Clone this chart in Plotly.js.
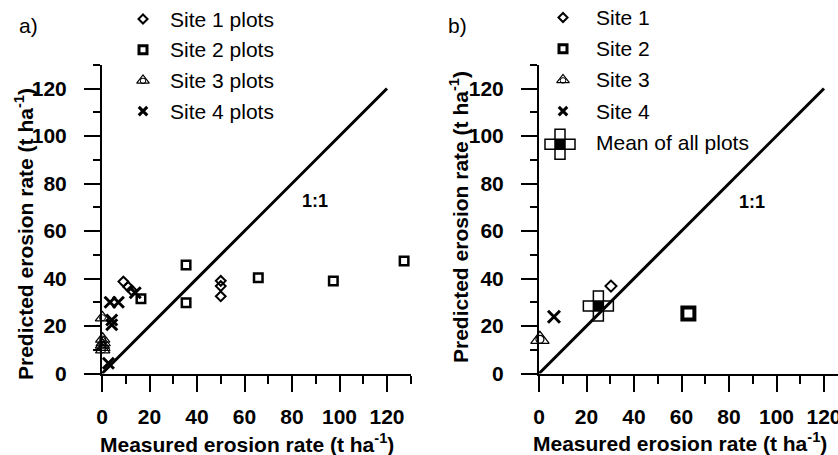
<!DOCTYPE html>
<html>
<head>
<meta charset="utf-8">
<script src="https://cdn.plot.ly/plotly-3.0.1.min.js"></script>
<style>
html, body { margin: 0; padding: 0; overflow: hidden; background: #fff; }
#chart { width: 850px; height: 455px; }
</style>
</head>
<body>
<div id="chart"></div>
<script>
// ---------- data ----------
// Panel a: individual plots
var site1Meas = [9, 11, 12.5, 50, 50, 50];
var site1Pred = [38.7, 36.5, 35, 39, 36.8, 32.5];
var site2Meas = [16.4, 35.4, 35.4, 65.8, 97.4, 127.2];
var site2Pred = [31.5, 45.7, 29.8, 40.3, 38.9, 47.4];
var site3Meas = [0.2, 0.3, 0.5, 0.2, 0.4, 0.3];
var site3Pred = [23.5, 14.5, 13, 12, 11, 10];
var site4Meas = [3.4, 6.9, 4.1, 4.1, 2.7, 14];
var site4Pred = [30, 30, 22.5, 20.5, 4.3, 34];

// Panel b: site means
var siteMeanMeas = [30.3, 62.9, 0.4, 6.3];
var siteMeanPred = [36.8, 25.3, 14.4, 23.9];
var allMeanMeas = [25];
var allMeanPred = [28.4];

// 1:1 reference line
var oneToOne = [0, 120];

// text
var legendA = ['Site 1 plots', 'Site 2 plots', 'Site 3 plots', 'Site 4 plots'];
var legendB = ['Site 1', 'Site 2', 'Site 3', 'Site 4', 'Mean of all plots'];
var xTitle = 'Measured erosion rate (t ha<sup>-1</sup>)';
var yTitle = 'Predicted erosion rate (t ha<sup>-1</sup>)';
var tickVals = [0, 20, 40, 60, 80, 100, 120];

// ---------- layout geometry (pixels) ----------
var W = 850, H = 455;
var FONT = 'Liberation Sans, Arial, sans-serif';
var plotTop = 64.75, plotBottom = 373.5;
var aLeft = 102, bLeft = 539, plotW = 308.75;

function dx(p) { return p / W; }
function dy(p) { return (H - p) / H; }

var BLACK = '#000';

function mk(x, y, xa, ya, symbol, size, lw, color) {
  return {
    x: x, y: y, xaxis: xa, yaxis: ya, type: 'scatter', mode: 'markers',
    cliponaxis: false, showlegend: false, hoverinfo: 'skip',
    marker: { symbol: symbol, size: size, color: color || BLACK,
              line: { width: lw, color: BLACK } }
  };
}

var traces = [];
// 1:1 lines
traces.push({ x: oneToOne, y: oneToOne, xaxis: 'x', yaxis: 'y', mode: 'lines',
  line: { color: BLACK, width: 3 }, showlegend: false, hoverinfo: 'skip', cliponaxis: false });
traces.push({ x: oneToOne, y: oneToOne, xaxis: 'x2', yaxis: 'y2', mode: 'lines',
  line: { color: BLACK, width: 3 }, showlegend: false, hoverinfo: 'skip', cliponaxis: false });

// Panel a points
traces.push(mk(site1Meas, site1Pred, 'x', 'y', 'diamond-open', 7.5, 2));
traces.push(mk(site2Meas, site2Pred, 'x', 'y', 'square-open', 8.5, 2.5));
traces.push(mk(site3Meas, site3Pred, 'x', 'y', 'triangle-up-open', 12.5, 1.2));
traces.push(mk(site3Meas, site3Pred, 'x', 'y', 'circle-open', 6, 1));
traces.push(mk(site4Meas, site4Pred, 'x', 'y', 'x-thin-open', 11, 3));

// Panel b points
var bSym = ['diamond-open', 'square-open', 'triangle-up-open', 'x-thin-open'];
var bSize = [8.5, 12, 16, 12];
var bLw = [2, 4, 1.2, 3];
for (var i = 0; i < siteMeanMeas.length; i++) {
  traces.push(mk([siteMeanMeas[i]], [siteMeanPred[i]], 'x2', 'y2', bSym[i], bSize[i], bLw[i]));
  if (i === 2) traces.push(mk([siteMeanMeas[i]], [siteMeanPred[i]], 'x2', 'y2', 'circle-open', 8, 1.2));
}
traces.push(mk(allMeanMeas, allMeanPred, 'x2', 'y2', 'cross-open', 25, 1.5));
traces.push(mk(allMeanMeas, allMeanPred, 'x2', 'y2', 'square', 10, 1.5));

// ---------- legend keys (overlay pixel axes) ----------
var legA = { x: 143, top: 19, gap: 30.7, textX: 168 };
var legB = { x: 563, top: 17.5, gap: 31.2, textX: 594 };
var keySym = ['diamond-open', 'square-open', 'triangle-up-open', 'x-thin-open'];
var keySize = [7, 8, 11, 8.5];
var keyLw = [2, 3, 1.2, 3];
var LEG_FONT = { family: FONT, size: 21, color: BLACK };
var annotations = [];
for (var i = 0; i < legendA.length; i++) {
  var yy = legA.top + i * legA.gap;
  traces.push(mk([legA.x], [yy], 'x3', 'y3', keySym[i], keySize[i], keyLw[i]));
  if (i === 2) traces.push(mk([legA.x], [yy + 0.5], 'x3', 'y3', 'circle-open', 5.5, 1));
  annotations.push({ xref: 'x3', yref: 'y3', x: legA.textX, y: yy, text: legendA[i],
    showarrow: false, xanchor: 'left', yanchor: 'middle', font: LEG_FONT });
}
for (var i = 0; i < legendB.length; i++) {
  var yy = legB.top + i * legB.gap;
  if (i < 4) {
    traces.push(mk([legB.x], [yy], 'x3', 'y3', keySym[i], keySize[i], keyLw[i]));
    if (i === 2) traces.push(mk([legB.x], [yy + 0.5], 'x3', 'y3', 'circle-open', 5.5, 1));
  } else {
    traces.push(mk([legB.x - 3], [yy + 2], 'x3', 'y3', 'cross-open', 25, 1.5));
    traces.push(mk([legB.x - 3], [yy + 2], 'x3', 'y3', 'square', 10, 1.5));
  }
  annotations.push({ xref: 'x3', yref: 'y3', x: legB.textX, y: yy, text: legendB[i],
    showarrow: false, xanchor: 'left', yanchor: 'middle', font: LEG_FONT });
}

// panel labels
annotations.push({ xref: 'x3', yref: 'y3', x: 17, y: 25, text: 'a)', showarrow: false,
  xanchor: 'left', yanchor: 'middle', font: LEG_FONT });
annotations.push({ xref: 'x3', yref: 'y3', x: 446, y: 25, text: 'b)', showarrow: false,
  xanchor: 'left', yanchor: 'middle', font: LEG_FONT });

// 1:1 labels
var boldFont = { family: FONT, size: 18, color: BLACK, weight: 'bold' };
annotations.push({ xref: 'x', yref: 'y', x: 89.7, y: 72.6, text: '1:1', showarrow: false, font: boldFont });
annotations.push({ xref: 'x2', yref: 'y2', x: 89.5, y: 72.2, text: '1:1', showarrow: false, font: boldFont });

// axis titles
var titleFont = { family: FONT, size: 21, color: BLACK, weight: 'bold' };
annotations.push({ xref: 'x3', yref: 'y3', x: 246.5, y: 443, text: xTitle, showarrow: false, font: titleFont });
annotations.push({ xref: 'x3', yref: 'y3', x: 680, y: 442, text: xTitle, showarrow: false, font: titleFont });
annotations.push({ xref: 'x3', yref: 'y3', x: 24, y: 234, text: yTitle, textangle: -90, showarrow: false, font: titleFont });
annotations.push({ xref: 'x3', yref: 'y3', x: 459, y: 217, text: yTitle, textangle: -90, showarrow: false, font: titleFont });

function axis(domain, anchor, isX) {
  return {
    domain: domain, anchor: anchor, range: [0, 130], fixedrange: true,
    showline: true, linecolor: BLACK, linewidth: 2, mirror: false,
    showgrid: false, zeroline: false,
    tickmode: 'array', tickvals: tickVals, ticktext: tickVals.map(String),
    ticks: 'outside', ticklen: 16, tickwidth: 2, tickcolor: BLACK,
    ticklabelstandoff: isX ? 7 : 13,
    minor: { dtick: 10, tick0: 0, ticks: 'outside', ticklen: isX ? 8 : 7, tickwidth: 2, tickcolor: BLACK, showgrid: false },
    tickfont: { family: FONT, size: 21, color: BLACK, weight: 'bold' }
  };
}

var yDom = [dy(plotBottom), dy(plotTop)];
var layout = {
  width: W, height: H,
  margin: { l: 0, r: 0, t: 0, b: 0 },
  paper_bgcolor: '#fff', plot_bgcolor: 'rgba(0,0,0,0)',
  showlegend: false,
  xaxis: axis([dx(aLeft), dx(aLeft + plotW)], 'y', true),
  yaxis: axis(yDom, 'x', false),
  xaxis2: axis([dx(bLeft), dx(bLeft + plotW)], 'y2', true),
  yaxis2: axis(yDom, 'x2', false),
  xaxis3: { domain: [0, 1], anchor: 'y3', range: [0, W], visible: false, fixedrange: true },
  yaxis3: { domain: [0, 1], anchor: 'x3', range: [H, 0], visible: false, fixedrange: true },
  annotations: annotations
};

Plotly.newPlot('chart', traces, layout, { displayModeBar: false, staticPlot: true });
</script>
</body>
</html>
